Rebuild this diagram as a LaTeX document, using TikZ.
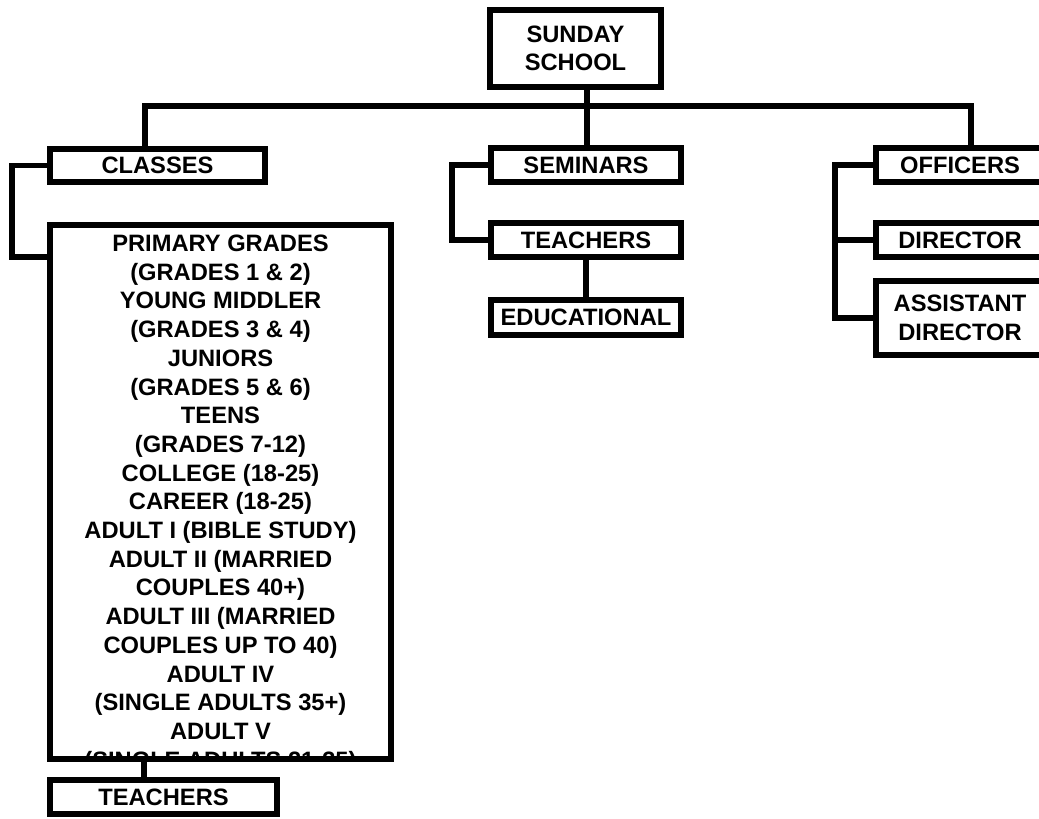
\documentclass[tikz,border=0pt]{standalone}
\usepackage{fontspec}
\setmainfont{Liberation Sans}
\begin{document}
\begin{tikzpicture}[x=1pt,y=-1pt,
  box/.style={draw, line width=6pt, fill=white, inner sep=0pt, align=center,
    font=\bfseries\fontsize{23.7}{28.5}\selectfont},
  conn/.style={draw, line width=5.5pt, line cap=rect, line join=miter}]
\useasboundingbox (0,0) rectangle (1039,819);
% top
\node[box, minimum width=171pt, minimum height=77pt] (sunday) at (575.5,48.5) {SUNDAY\\SCHOOL};
% classes branch
\node[box, minimum width=215pt, minimum height=33pt] (classes) at (157.5,165.5) {CLASSES};
\node[draw, line width=6pt, fill=white, minimum width=341pt, minimum height=534pt, inner sep=0pt] (list) at (220.5,492) {};
\begin{scope}
  \clip ([xshift=3pt,yshift=3pt]list.south west) rectangle ([xshift=-3pt,yshift=-3pt]list.north east);
  \node[anchor=base, inner sep=0pt, font=\bfseries\fontsize{23.7}{28.7}\selectfont] (listtext) at (220.5,251.5)
  {\setlength{\tabcolsep}{0pt}\begin{tabular}[t]{c}
  PRIMARY GRADES\\
  (GRADES 1 \& 2)\\
  YOUNG MIDDLER\\
  (GRADES 3 \& 4)\\
  JUNIORS\\
  (GRADES 5 \& 6)\\
  TEENS\\
  (GRADES 7-12)\\
  COLLEGE (18-25)\\
  CAREER (18-25)\\
  ADULT I (BIBLE STUDY)\\
  ADULT II (MARRIED\\
  COUPLES 40+)\\
  ADULT III (MARRIED\\
  COUPLES UP TO 40)\\
  ADULT IV\\
  (SINGLE ADULTS 35+)\\
  ADULT V\\
  (SINGLE ADULTS 21-35)
  \end{tabular}};
\end{scope}
\node[draw, line width=6pt, minimum width=341pt, minimum height=534pt, inner sep=0pt] (listframe) at (220.5,492) {};
\node[box, minimum width=227pt, minimum height=34pt] (teachersA) at (163.5,797) {TEACHERS};
% seminars branch
\node[box, minimum width=190pt, minimum height=34pt] (seminars) at (586,165) {SEMINARS};
\node[box, minimum width=190pt, minimum height=34pt] (teachersB) at (586,240) {TEACHERS};
\node[box, minimum width=190pt, minimum height=35pt] (educational) at (586,317.5) {EDUCATIONAL};
% officers branch
\node[box, minimum width=168pt, minimum height=34pt] (officers) at (960,165) {OFFICERS};
\node[box, minimum width=168pt, minimum height=34pt] (director) at (960,240) {DIRECTOR};
\node[box, minimum width=168pt, minimum height=74pt] (assistant) at (960,318) {ASSISTANT\\DIRECTOR};
% connectors
\coordinate (busL) at (145,106);
\coordinate (busR) at (971,106);
\coordinate (busM) at (587,106);
\draw[conn] (busL) -- (busR);
\draw[conn] (sunday.south -| busM) -- (seminars.north -| busM);
\draw[conn] (busL) -- (classes.north -| busL);
\draw[conn] (busR) -- (officers.north -| busR);
\coordinate (cl) at (12,257);
\draw[conn] (classes.west) -| (cl) -- (listframe.west |- cl);
\coordinate (lb) at (144,0);
\draw[conn] (listframe.south -| lb) -- (teachersA.north -| lb);
\coordinate (sl) at (452,0);
\draw[conn] (seminars.west) -| (sl |- teachersB.west) -- (teachersB.west);
\draw[conn] (teachersB.south) -- (educational.north);
\coordinate (ol) at (835,0);
\draw[conn] (officers.west) -| (ol |- assistant.west) -- (assistant.west);
\draw[conn] (ol |- director.west) -- (director.west);
\end{tikzpicture}
\end{document}
